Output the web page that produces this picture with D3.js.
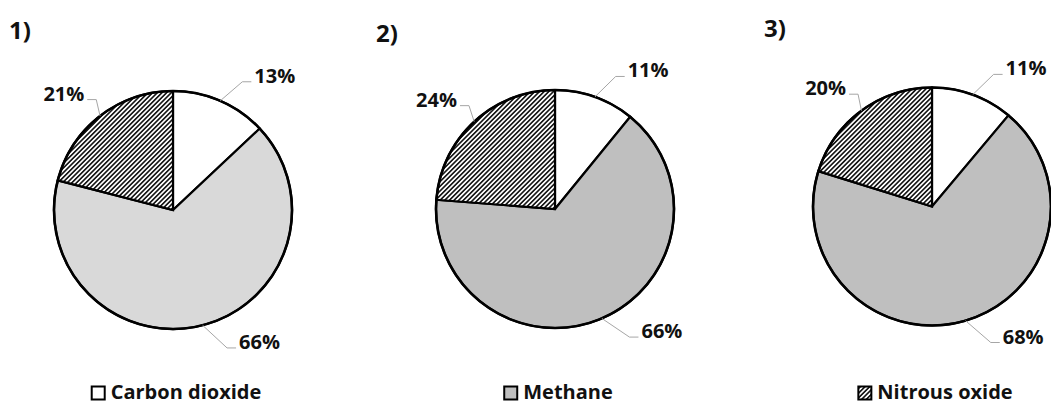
<!DOCTYPE html>
<html>
<head>
<meta charset="utf-8">
<script src="https://cdn.jsdelivr.net/npm/d3@7/dist/d3.min.js"></script>
<style>
  html, body { margin: 0; padding: 0; background: #fff; }
  svg text { font-family: "Open Sans", "Noto Sans", sans-serif; font-weight: bold; fill: #111; }
</style>
</head>
<body>
<svg id="chart" width="1051" height="406"></svg>
<script>
// Panel titles and the gas each slice stands for
const panelTitles = ["1)", "2)", "3)"];
const gases = ["Carbon dioxide", "Methane", "Nitrous oxide"];

// Percentage share of each gas, one array per panel
const panel1Shares = [13, 66, 21];
const panel2Shares = [11, 66, 24];
const panel3Shares = [11, 68, 20];
const panels = [panel1Shares, panel2Shares, panel3Shares];

const svg = d3.select("#chart");

// Diagonal hatch used for nitrous oxide
const defs = svg.append("defs");
const hatch = defs.append("pattern")
  .attr("id", "hatch")
  .attr("width", 3.3).attr("height", 3.3)
  .attr("patternUnits", "userSpaceOnUse")
  .attr("patternTransform", "rotate(45)");
hatch.append("rect").attr("width", 3.3).attr("height", 3.3).attr("fill", "#fff");
hatch.append("line")
  .attr("x1", 1.65).attr("y1", -1).attr("x2", 1.65).attr("y2", 4.3)
  .attr("stroke", "#000").attr("stroke-width", 1.5);

const radius = 119;
const centers = [[173, 210], [555, 209], [932, 206.5]];
const titlePos = [[9, 39], [376, 42], [764, 37]];
const bigSliceFill = ["#d9d9d9", "#bfbfbf", "#bfbfbf"];
const legendFills = ["#ffffff", "#bfbfbf", "url(#hatch)"];

// Leader-line elbow placement per slice kind (radius factor, angle nudge in degrees)
const elbowRadius = [1.225, 1.245, 1.13];
const elbowNudge = [5, -7, 3];

const pie = d3.pie().sort(null).value(d => d);
const arc = d3.arc().innerRadius(0).outerRadius(radius);

function polar(r, a) {
  return [r * Math.sin(a), -r * Math.cos(a)];
}

panels.forEach((shares, p) => {
  const [cx, cy] = centers[p];
  const g = svg.append("g").attr("transform", `translate(${cx},${cy})`);
  const fills = ["#ffffff", bigSliceFill[p], "url(#hatch)"];

  const arcs = pie(shares);

  g.selectAll("path.slice")
    .data(arcs)
    .join("path")
    .attr("class", "slice")
    .attr("d", arc)
    .attr("fill", (d, i) => fills[i])
    .attr("stroke", "#000")
    .attr("stroke-width", 2.2)
    .attr("stroke-linejoin", "miter");

  // Heavier outer rim
  g.append("circle")
    .attr("r", radius)
    .attr("fill", "none")
    .attr("stroke", "#000")
    .attr("stroke-width", 2.6);

  // Percentage labels with leader lines
  arcs.forEach((d, i) => {
    const mid = (d.startAngle + d.endAngle) / 2;
    const start = polar(radius, mid);
    const elbow = polar(radius * elbowRadius[i], mid + elbowNudge[i] * Math.PI / 180);
    const side = Math.sin(mid + elbowNudge[i] * Math.PI / 180) >= 0 ? 1 : -1;
    const tail = [elbow[0] + side * 9, elbow[1]];

    g.append("polyline")
      .attr("points", [start, elbow, tail].map(pt => pt.join(",")).join(" "))
      .attr("fill", "none")
      .attr("stroke", "#a6a6a6")
      .attr("stroke-width", 1);

    g.append("text")
      .attr("x", tail[0] + side * 3)
      .attr("y", tail[1] + 1)
      .attr("text-anchor", side > 0 ? "start" : "end")
      .attr("font-size", 20)
      .text(d.data + "%");
  });

  // Panel title
  svg.append("text")
    .attr("x", titlePos[p][0])
    .attr("y", titlePos[p][1])
    .attr("font-size", 24)
    .text(panelTitles[p]);

  // Legend entry under the pie
  const leg = svg.append("g");
  const label = leg.append("text")
    .attr("x", 20)
    .attr("y", 399)
    .attr("font-size", 20)
    .text(gases[p]);
  leg.append("rect")
    .attr("x", 1).attr("y", 386.5)
    .attr("width", 13).attr("height", 13)
    .attr("fill", legendFills[p])
    .attr("stroke", "#000")
    .attr("stroke-width", 2);
  const w = 20 + label.node().getComputedTextLength();
  leg.attr("transform", `translate(${cx + 3 - w / 2},0)`);
});
</script>
</body>
</html>
